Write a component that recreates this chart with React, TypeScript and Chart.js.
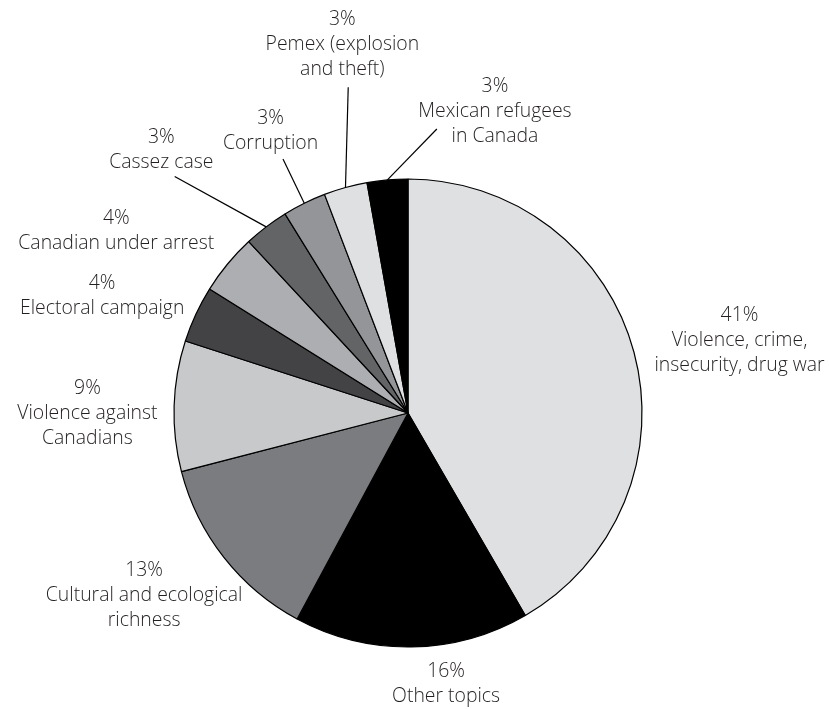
import React, { useEffect, useRef } from "react";
import { Chart, registerables } from "chart.js";

Chart.register(...registerables);

const categories = [
  "Violence, crime,\ninsecurity, drug war",
  "Other topics",
  "Cultural and ecological\nrichness",
  "Violence against\nCanadians",
  "Electoral campaign",
  "Canadian under arrest",
  "Cassez case",
  "Corruption",
  "Pemex (explosion\nand theft)",
  "Mexican refugees\nin Canada",
];

// shares
const values = [41.6, 16.2, 13.1, 9.0, 3.9, 4.2, 3.1, 3.0, 3.0, 2.8];

// printed percentages
const percentLabels = ["41%", "16%", "13%", "9%", "4%", "4%", "3%", "3%", "3%", "3%"];

const sliceColors = [
  "#dfe0e2",
  "#000000",
  "#7b7c7f",
  "#c8c9cb",
  "#434345",
  "#adaeb1",
  "#636466",
  "#939598",
  "#dfe0e2",
  "#000000",
];

// label placement: angle (deg, clockwise from top) and distance (x radius)
const labelLayout = [
  { a: 77.7, d: 1.45 },
  { a: 172, d: 1.17 },
  { a: 235.4, d: 1.37 },
  { a: 270, d: 1.37 },
  { a: 291, d: 1.4 },
  { a: 302, d: 1.47 },
  { a: 316.8, d: 1.54 },
  { a: 334, d: 1.34 },
  { a: 349.9, d: 1.6 },
  { a: 16.1, d: 1.34 },
];

// leader line start (null = no leader line)
const leaderLayout: ({ a: number; d: number } | null)[] = [
  null,
  null,
  null,
  null,
  null,
  null,
  { a: 315.4, d: 1.42 },
  { a: 333.8, d: 1.21 },
  { a: 349.6, d: 1.415 },
  { a: 5.8, d: 1.22 },
];

const FONT = '300 19.4px "Open Sans", "Noto Sans", sans-serif';
const LINE_H = 25;

const labelPlugin = {
  id: "pieLabels",
  afterDraw(chart: any) {
    const meta = chart.getDatasetMeta(0);
    const ctx = chart.ctx as CanvasRenderingContext2D;
    ctx.save();
    ctx.font = FONT;
    ctx.fillStyle = "#231f20";
    ctx.textAlign = "center";
    ctx.textBaseline = "middle";
    meta.data.forEach((arc: any, i: number) => {
      const cx = arc.x;
      const cy = arc.y;
      const r = arc.outerRadius;
      const pt = (deg: number, f: number) => {
        const t = (deg * Math.PI) / 180;
        return { x: cx + Math.sin(t) * r * f, y: cy - Math.cos(t) * r * f };
      };
      const lay = labelLayout[i];
      const p = pt(lay.a, lay.d);
      const lines = [percentLabels[i], ...categories[i].split("\n")];
      const n = lines.length;
      lines.forEach((ln, k) => {
        ctx.fillText(ln, p.x, p.y + (k - (n - 1) / 2) * LINE_H);
      });
      const lead = leaderLayout[i];
      if (lead) {
        const mid = (arc.startAngle + arc.endAngle) / 2;
        const ex = cx + Math.cos(mid) * r;
        const ey = cy + Math.sin(mid) * r;
        const s = pt(lead.a, lead.d);
        ctx.beginPath();
        ctx.strokeStyle = "#000";
        ctx.lineWidth = 1.2;
        ctx.moveTo(s.x, s.y);
        ctx.lineTo(ex, ey);
        ctx.stroke();
      }
    });
    ctx.restore();
  },
};

export default function App() {
  const ref = useRef<HTMLCanvasElement | null>(null);
  useEffect(() => {
    if (!ref.current) return;
    const chart = new Chart(ref.current, {
      type: "pie",
      data: {
        labels: categories.map((c) => c.replace("\n", " ")),
        datasets: [
          {
            data: values,
            backgroundColor: sliceColors,
            borderColor: "#000000",
            borderWidth: 1.2,
          },
        ],
      },
      options: {
        responsive: false,
        animation: false,
        radius: 234,
        layout: { padding: { left: 172, right: 185, top: 177, bottom: 60 } },
        plugins: {
          legend: { display: false },
          tooltip: { enabled: false },
          title: { display: false },
        },
      },
      plugins: [labelPlugin],
    });
    return () => chart.destroy();
  }, []);
  return (
    <div style={{ position: "fixed", left: 0, top: 0, width: 829, height: 709, background: "#fff" }}>
      <canvas ref={ref} width={829} height={709} style={{ width: 829, height: 709, display: "block" }} />
    </div>
  );
}
